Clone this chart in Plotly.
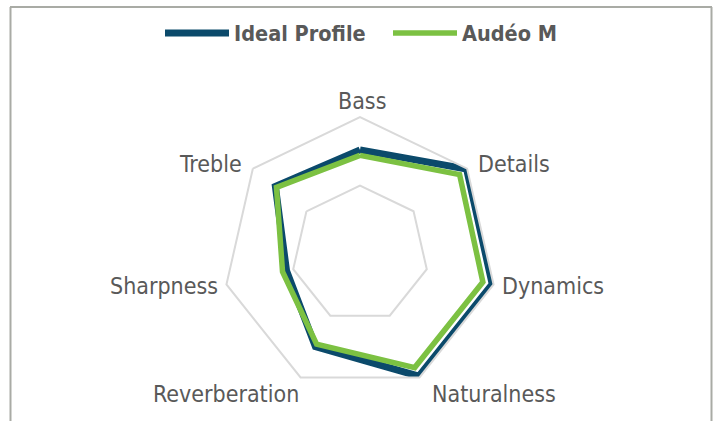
import math
import plotly.graph_objects as go

categories = ["Bass", "Details", "Dynamics", "Naturalness", "Reverberation", "Sharpness", "Treble"]
ideal_profile = [7.6, 9.95, 9.9, 9.9, 7.5, 5.5, 7.9]
audeo_m = [7.2, 9.3, 9.2, 9.2, 7.3, 5.8, 7.8]
series_names = ["Ideal Profile", "Audéo M"]
radial_ticks = [5, 10]

W, H = 715, 421
FONT = "Liberation Sans Narrow, DejaVu Sans Condensed, sans-serif"
TXT = "#595959"

fig = go.Figure()
for name, vals, color, width, lg in [
    (series_names[0], ideal_profile, "#0b4a6b", 7, "legend"),
    (series_names[1], audeo_m, "#7cc142", 5.5, "legend2"),
]:
    fig.add_trace(go.Scatterpolar(
        r=vals + vals[:1], theta=categories + categories[:1], name=name,
        mode="lines", line=dict(color=color, width=width, shape="linear"),
        hoverinfo="skip", legend=lg,
    ))

legend_style = dict(orientation="h", yanchor="middle", xanchor="left",
                    font=dict(family=FONT, size=21.5, color=TXT, weight="bold"),
                    itemwidth=64, bgcolor="rgba(0,0,0,0)")

# polar geometry (pixels, page coordinates)
cx, cy, R = 360, 254, 137

# category labels placed around the outer vertices (Excel-like placement)
annotations = []
n = len(categories)
for i, cat in enumerate(categories):
    th = 2 * math.pi * i / n
    s, c = math.sin(th), math.cos(th)
    vx, vy = cx + R * s, cy - R * c
    if abs(s) < 0.1:                      # top
        x, y, xa = vx + 2, vy - 16, "center"
    elif c < -0.8:                        # bottom pair
        x, y, xa = vx + math.copysign(75, s), vy + 16.5, "center"
    elif c > 0.3:                         # upper sides
        x, y, xa = vx + math.copysign(9, s), vy - 5, ("left" if s > 0 else "right")
    else:                                 # middle sides
        x, y, xa = vx + math.copysign(6, s), vy + 1.5, ("left" if s > 0 else "right")
    annotations.append(dict(text=cat, x=x / W, y=1 - y / H, xref="paper", yref="paper",
                            xanchor=xa, yanchor="middle", showarrow=False,
                            font=dict(family=FONT, size=23, color=TXT)))

fig.update_layout(
    width=W, height=H,
    margin=dict(l=0, r=0, t=0, b=0),
    paper_bgcolor="white", plot_bgcolor="white",
    font=dict(family=FONT, size=23, color=TXT),
    showlegend=True,
    legend=dict(x=160 / W, y=1 - 33 / H, **legend_style),
    legend2=dict(x=388 / W, y=1 - 33 / H, **legend_style),
    polar=dict(
        domain=dict(x=[(cx - R) / W, (cx + R) / W], y=[(H - cy - R) / H, (H - cy + R) / H]),
        gridshape="linear",
        bgcolor="white",
        radialaxis=dict(range=[0, 10], tickvals=radial_ticks, showticklabels=False, ticks="",
                        showline=False, gridcolor="#d9d9d9", gridwidth=2),
        angularaxis=dict(rotation=90, direction="clockwise", showgrid=False, ticks="",
                         showticklabels=False,
                         showline=True, linecolor="#d9d9d9", linewidth=2),
    ),
    annotations=annotations,
    shapes=[
        dict(type="line", xref="paper", yref="paper", x0=10 / W, x1=712 / W, y0=1 - 7 / H, y1=1 - 7 / H,
             line=dict(color="#a9aba5", width=2)),
        dict(type="line", xref="paper", yref="paper", x0=10.5 / W, x1=10.5 / W, y0=0, y1=1 - 7 / H,
             line=dict(color="#a9aba5", width=2)),
        dict(type="line", xref="paper", yref="paper", x0=711.5 / W, x1=711.5 / W, y0=0, y1=1 - 7 / H,
             line=dict(color="#a9aba5", width=2)),
    ],
)
fig.write_html("out.html", config={"displayModeBar": False},
               post_script="document.body.style.margin='0px';")
